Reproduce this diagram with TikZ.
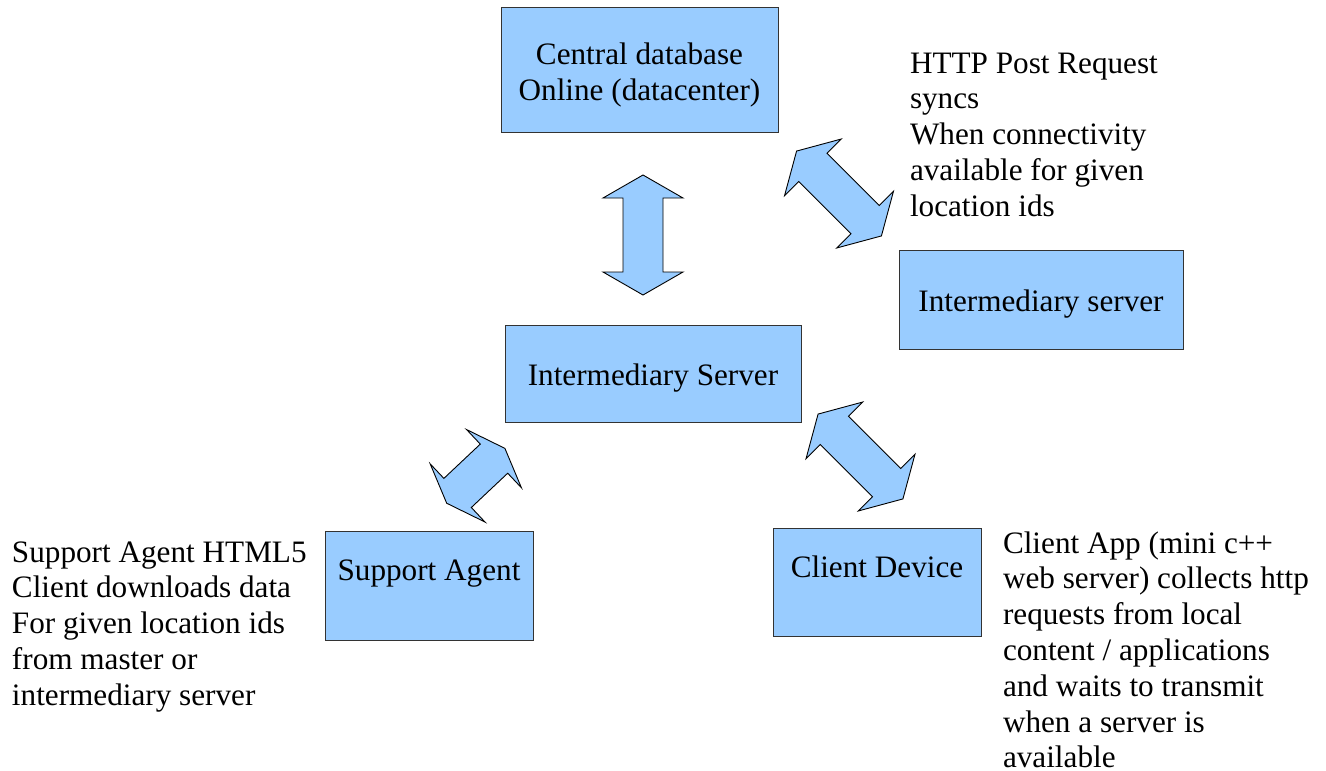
\documentclass[tikz,border=0pt]{standalone}
\usepackage{fontspec}
\setmainfont{Liberation Serif}
\definecolor{boxblue}{HTML}{99CCFF}
\definecolor{edgegray}{HTML}{333333}
\tikzset{
  box/.style={draw=edgegray, line width=1pt, fill=boxblue, inner sep=0pt, outer sep=0pt,
    font=\fontsize{31.2}{36}\selectfont, align=center},
  note/.style={inner sep=0pt, outer sep=0pt, anchor=base west, align=left,
    font=\fontsize{31.2}{35.8}\selectfont},
  arrowshape/.style={draw=black, line width=0.9pt, fill=boxblue, line join=miter},
  bigdbl/.pic={\draw[arrowshape] (0,-60) -- (40,-37) -- (20,-37) -- (20,37) -- (40,37) -- (0,60)
     -- (-40,37) -- (-20,37) -- (-20,-37) -- (-40,-37) -- cycle;},
  smalldbl/.pic={\draw[arrowshape] (0,-40) -- (40,-25) -- (20,-25) -- (20,25) -- (40,25) -- (0,40)
     -- (-40,25) -- (-20,25) -- (-20,-25) -- (-40,-25) -- cycle;}
}
\begin{document}
\begin{tikzpicture}[x=1pt,y=-1pt]
\useasboundingbox (0,0) rectangle (1326,771);
% boxes
\node[box, minimum width=277pt, minimum height=125pt, text height=62.8pt, text depth=0pt] (central) at (639.5,69.5)
  {Central database\\Online (datacenter)};
\node[box, minimum width=284pt, minimum height=99pt, text height=23pt, text depth=0pt] (iserver) at (1041,299.5) {Intermediary server};
\node[box, minimum width=296pt, minimum height=97pt, text height=24.4pt, text depth=0pt] (mserver) at (653,373.5) {Intermediary Server};
\node[box, minimum width=208pt, minimum height=109pt, text height=0pt, text depth=11pt] (agent) at (429,585.5) {Support Agent};
\node[box, minimum width=208pt, minimum height=108pt, text height=0pt, text depth=10pt] (client) at (877,582) {Client Device};
% arrows
\pic at (643,235) {bigdbl};
\pic[rotate=45] at (839,193.5) {bigdbl};
\pic[rotate=45] at (860.5,456.5) {bigdbl};
\pic[rotate=-46.7] at (475.8,475.8) {smalldbl};
% notes (anchored at the baseline of the last line)
\node[note] (httpnote) at (910,216.2) {HTTP Post Request\\syncs\\When connectivity\\available for given\\location ids};
\node[note] (agentnote) at (12,705.2) {Support Agent HTML5\\Client downloads data\\For given location ids\\from master or\\intermediary server};
\node[note] (clientnote) at (1003,767.8) {Client App (mini c++\\web server) collects http\\requests from local\\content / applications\\and waits to transmit\\when a server is\\available};
\end{tikzpicture}
\end{document}
